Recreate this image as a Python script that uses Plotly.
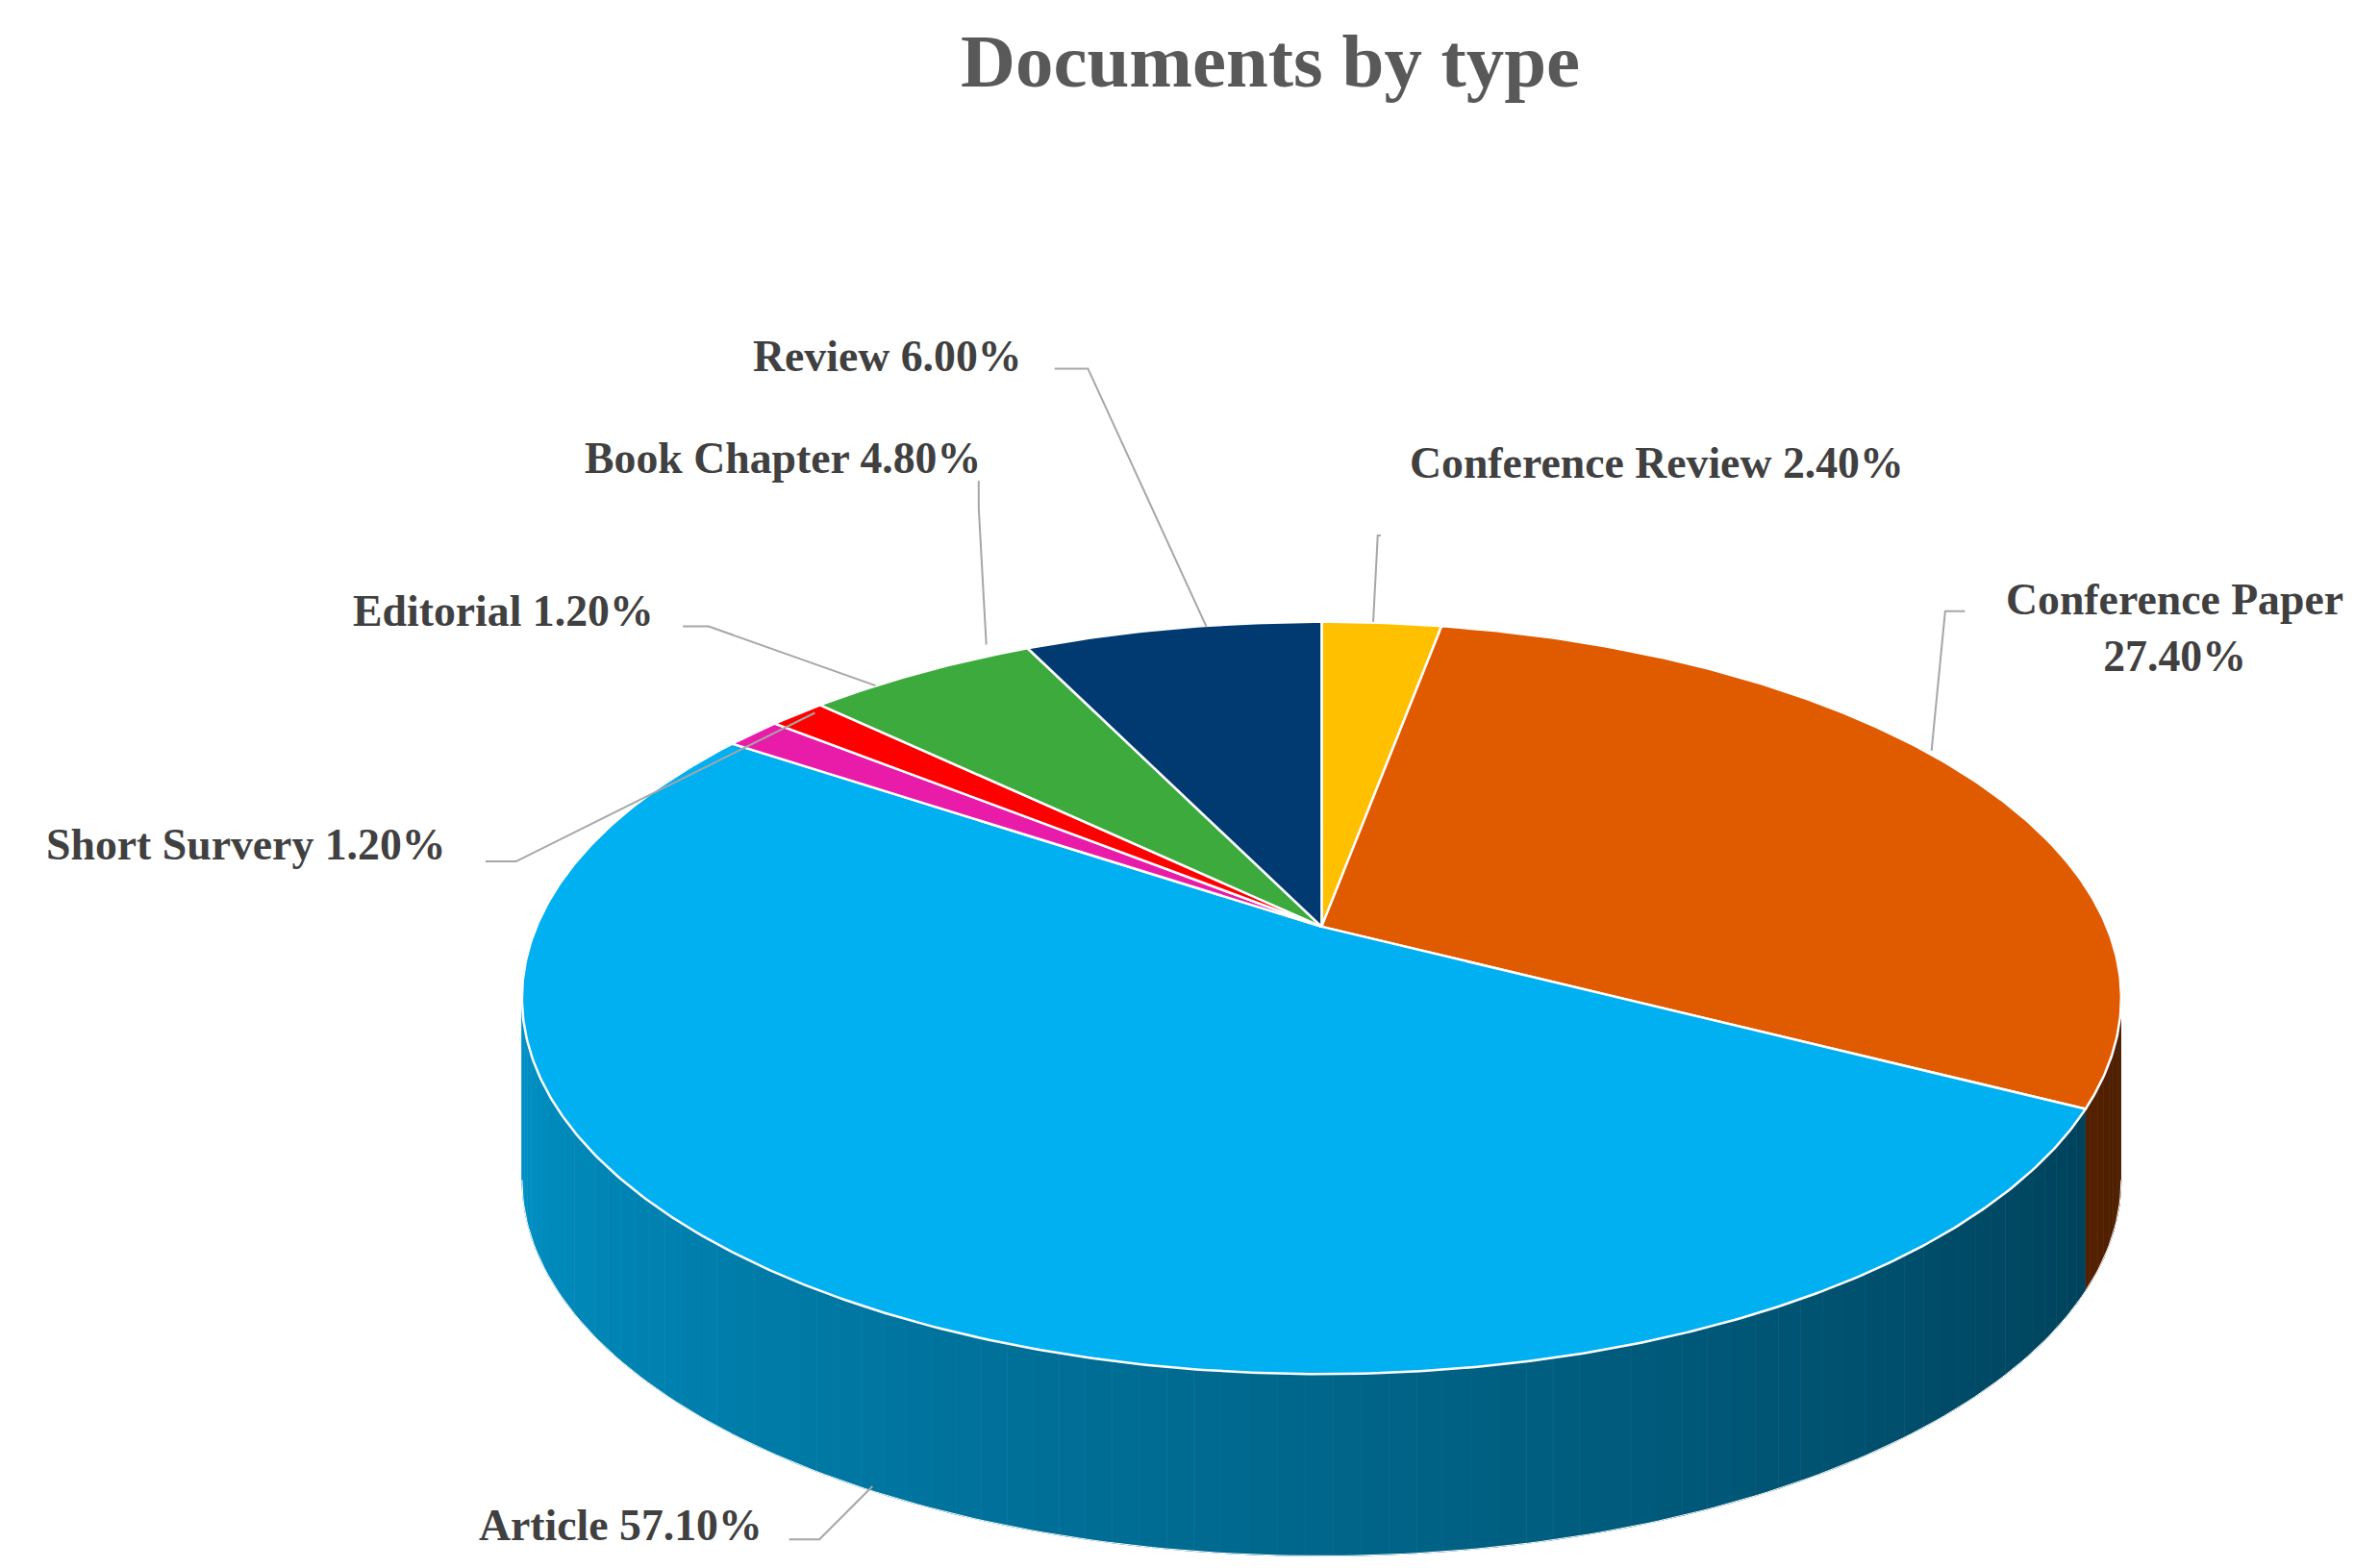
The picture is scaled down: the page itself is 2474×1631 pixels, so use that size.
import numpy as np
import plotly.graph_objects as go

labels = ["Conference Review", "Conference Paper", "Article", "Short Survery", "Editorial", "Book Chapter", "Review"]
values = [2.40, 27.40, 57.10, 1.20, 1.20, 4.80, 6.00]
colors = ["#FFC000", "#E05A00", "#00B0F0", "#E81CA8", "#FF0000", "#3DAA3D", "#003A70"]

W, H = 1568, 1034          # design units (scaled to figure size)
S = 2474 / W
cx, cy, rx, ry, depth = 866, 653, 527, 248, 120
apex_y = 606

def pt(theta_deg, dy=0.0):
    t = np.radians(theta_deg)
    return cx + rx * np.sin(t), cy - ry * np.cos(t) + dy

def rgb(hexc):
    h = hexc.lstrip("#")
    return [int(h[i:i + 2], 16) for i in (0, 2, 4)]

fig = go.Figure()
total = sum(values)
bounds = np.concatenate([[0], np.cumsum(values) / total * 360])

# side walls (front half, 90..270 degrees)
for i, c in enumerate(colors):
    a0, a1 = max(bounds[i], 90), min(bounds[i + 1], 270)
    if a1 <= a0:
        continue
    steps = np.arange(a0, a1, 2.0).tolist() + [a1]
    base = rgb(c)
    for s0, s1 in zip(steps[:-1], steps[1:]):
        f = 0.33 + 0.5 * ((s0 + s1) / 2 - 90) / 180
        col = "rgb(%d,%d,%d)" % tuple(int(v * f) for v in base)
        arc = np.linspace(s0, s1, 4)
        xs_t, ys_t = pt(arc)
        xs_b, ys_b = pt(arc[::-1], depth)
        fig.add_trace(go.Scatter(x=np.concatenate([xs_t, xs_b]), y=np.concatenate([ys_t, ys_b]),
                                 fill="toself", fillcolor=col, mode="lines",
                                 line=dict(color=col, width=1), hoverinfo="skip", showlegend=False))
arc = np.linspace(90, 270, 200)
xb, yb = pt(arc, depth)
fig.add_trace(go.Scatter(x=xb, y=yb, mode="lines", line=dict(color="white", width=1),
                         hoverinfo="skip", showlegend=False))

# top face slices
for i, c in enumerate(colors):
    arc = np.linspace(bounds[i], bounds[i + 1], max(int(bounds[i + 1] - bounds[i]) * 2, 4))
    xs, ys = pt(arc)
    fig.add_trace(go.Scatter(x=np.concatenate([[cx], xs, [cx]]), y=np.concatenate([[apex_y], ys, [apex_y]]),
                             fill="toself", fillcolor=c, mode="lines",
                             line=dict(color="white", width=2.5), name=labels[i],
                             hoverinfo="name", showlegend=False))

# labels and leader lines
lab = {
    "Conference Review": (1087, 300, [(905, 348), (903, 348), (900, 405)]),
    "Conference Paper": (1428, 409, [(1290, 398), (1277, 398), (1268, 490)]),
    "Article": (404, 1001, [(515, 1010), (535, 1010), (570, 975)]),
    "Short Survery": (157, 552, [(315, 563), (335, 563), (532, 465)]),
    "Editorial": (327, 398, [(445, 408), (462, 408), (572, 447)]),
    "Book Chapter": (511, 297, [(640, 312), (640, 330), (645, 420)]),
    "Review": (580, 230, [(690, 238), (712, 238), (790, 408)]),
}
font = dict(family="Liberation Serif, DejaVu Serif, serif", size=29 * S, color="#404040")
for name, v in zip(labels, values):
    x, y, pts = lab[name]
    txt = f"{name}<br>{v:.2f}%" if name == "Conference Paper" else f"{name} {v:.2f}%"
    fig.add_annotation(x=x, y=y, text="<b>" + txt + "</b>", showarrow=False, font=font, align="center")
    fig.add_trace(go.Scatter(x=[p[0] for p in pts], y=[p[1] for p in pts], mode="lines",
                             line=dict(color="#A6A6A6", width=2), hoverinfo="skip", showlegend=False))

fig.add_annotation(x=832, y=35, text="<b>Documents by type</b>", showarrow=False,
                   font=dict(family="Liberation Serif, DejaVu Serif, serif", size=50 * S, color="#595959"))

fig.update_layout(width=2474, height=1631, margin=dict(l=0, r=0, t=0, b=0),
                  paper_bgcolor="white", plot_bgcolor="white",
                  xaxis=dict(range=[0, W], visible=False, fixedrange=True),
                  yaxis=dict(range=[H, 0], visible=False, fixedrange=True))
fig.write_html("out.html")
